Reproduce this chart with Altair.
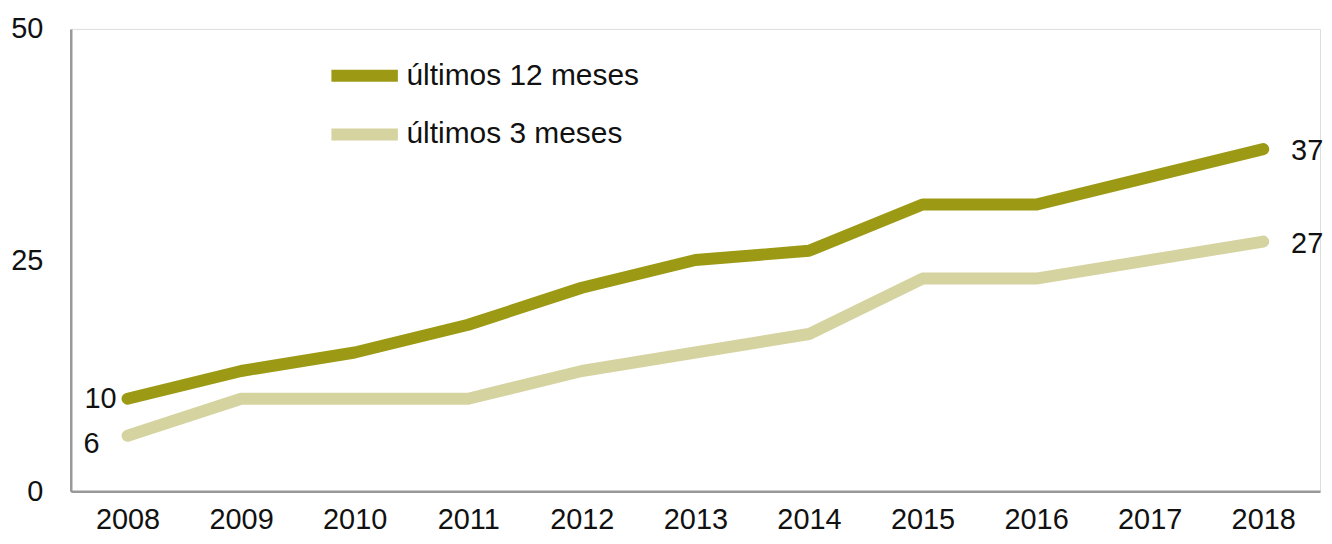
import altair as alt
import pandas as pd

years = ["2008", "2009", "2010", "2011", "2012", "2013", "2014", "2015", "2016", "2017", "2018"]
s12 = [10, 13, 15, 18, 22, 25, 26, 31, 31, 34, 37]
s3 = [6, 10, 10, 10, 13, 15, 17, 23, 23, 25, 27]
series_names = ["últimos 12 meses", "últimos 3 meses"]
colors = ["#9c9a14", "#d5d3a0"]

rows = []
for y, v in zip(years, s12):
    rows.append({"year": y, "value": v, "serie": series_names[0]})
for y, v in zip(years, s3):
    rows.append({"year": y, "value": v, "serie": series_names[1]})
df = pd.DataFrame(rows)

FONT = "Liberation Sans"
FS = 29

x = alt.X("year:O", title=None,
          axis=alt.Axis(labelAngle=0, ticks=False, labelPadding=14, domainColor="#999999",
                        domainWidth=2.5, labelFontSize=FS, labelFont=FONT, labelColor="#111111"))
y = alt.Y("value:Q", title=None,
          scale=alt.Scale(domain=[0, 50], nice=False),
          axis=alt.Axis(values=[0, 25, 50], grid=False, ticks=False, labelPadding=28,
                        domainColor="#999999", domainWidth=2.5, labelFontSize=FS,
                        labelFont=FONT, labelColor="#111111"))

color = alt.Color("serie:N", scale=alt.Scale(domain=series_names, range=colors),
                  legend=alt.Legend(title=None, orient="none", legendX=260, legendY=12,
                                    symbolType="M-1.15,0L1.15,0", symbolStrokeWidth=12, symbolSize=3364,
                                    labelFontSize=30, labelFont=FONT, labelColor="#111111",
                                    labelOffset=7, rowPadding=0, labelLimit=400))

base = alt.Chart(df)
lines = base.mark_line(strokeWidth=12, strokeCap="round", strokeJoin="round").encode(
    x=x, y=y, color=color, order=alt.Order("serie:N"))

txt = dict(font=FONT, fontSize=FS, color="#111111", baseline="middle")
first = df[df["year"] == years[0]]
last = df[df["year"] == years[-1]]

lab1 = alt.Chart(first[first["serie"] == series_names[0]]).mark_text(align="right", dx=-11, dy=0, **txt).encode(
    x="year:O", y="value:Q", text="value:Q")
lab2 = alt.Chart(first[first["serie"] == series_names[1]]).mark_text(align="right", dx=-28, dy=8, **txt).encode(
    x="year:O", y="value:Q", text="value:Q")
lab3 = alt.Chart(last).mark_text(align="left", dx=28, dy=2, **txt).encode(
    x="year:O", y="value:Q", text="value:Q")

chart = alt.layer(lines, lab1, lab2, lab3).properties(
    width=1254, height=464,
    autosize=alt.AutoSizeParams(type="none"),
    padding={"left": 63, "top": 20, "right": 4, "bottom": 44},
).configure_view(stroke="transparent", strokeWidth=0).configure(background="white")

chart.save("out.html", embed_options={"renderer": "svg", "actions": False})
